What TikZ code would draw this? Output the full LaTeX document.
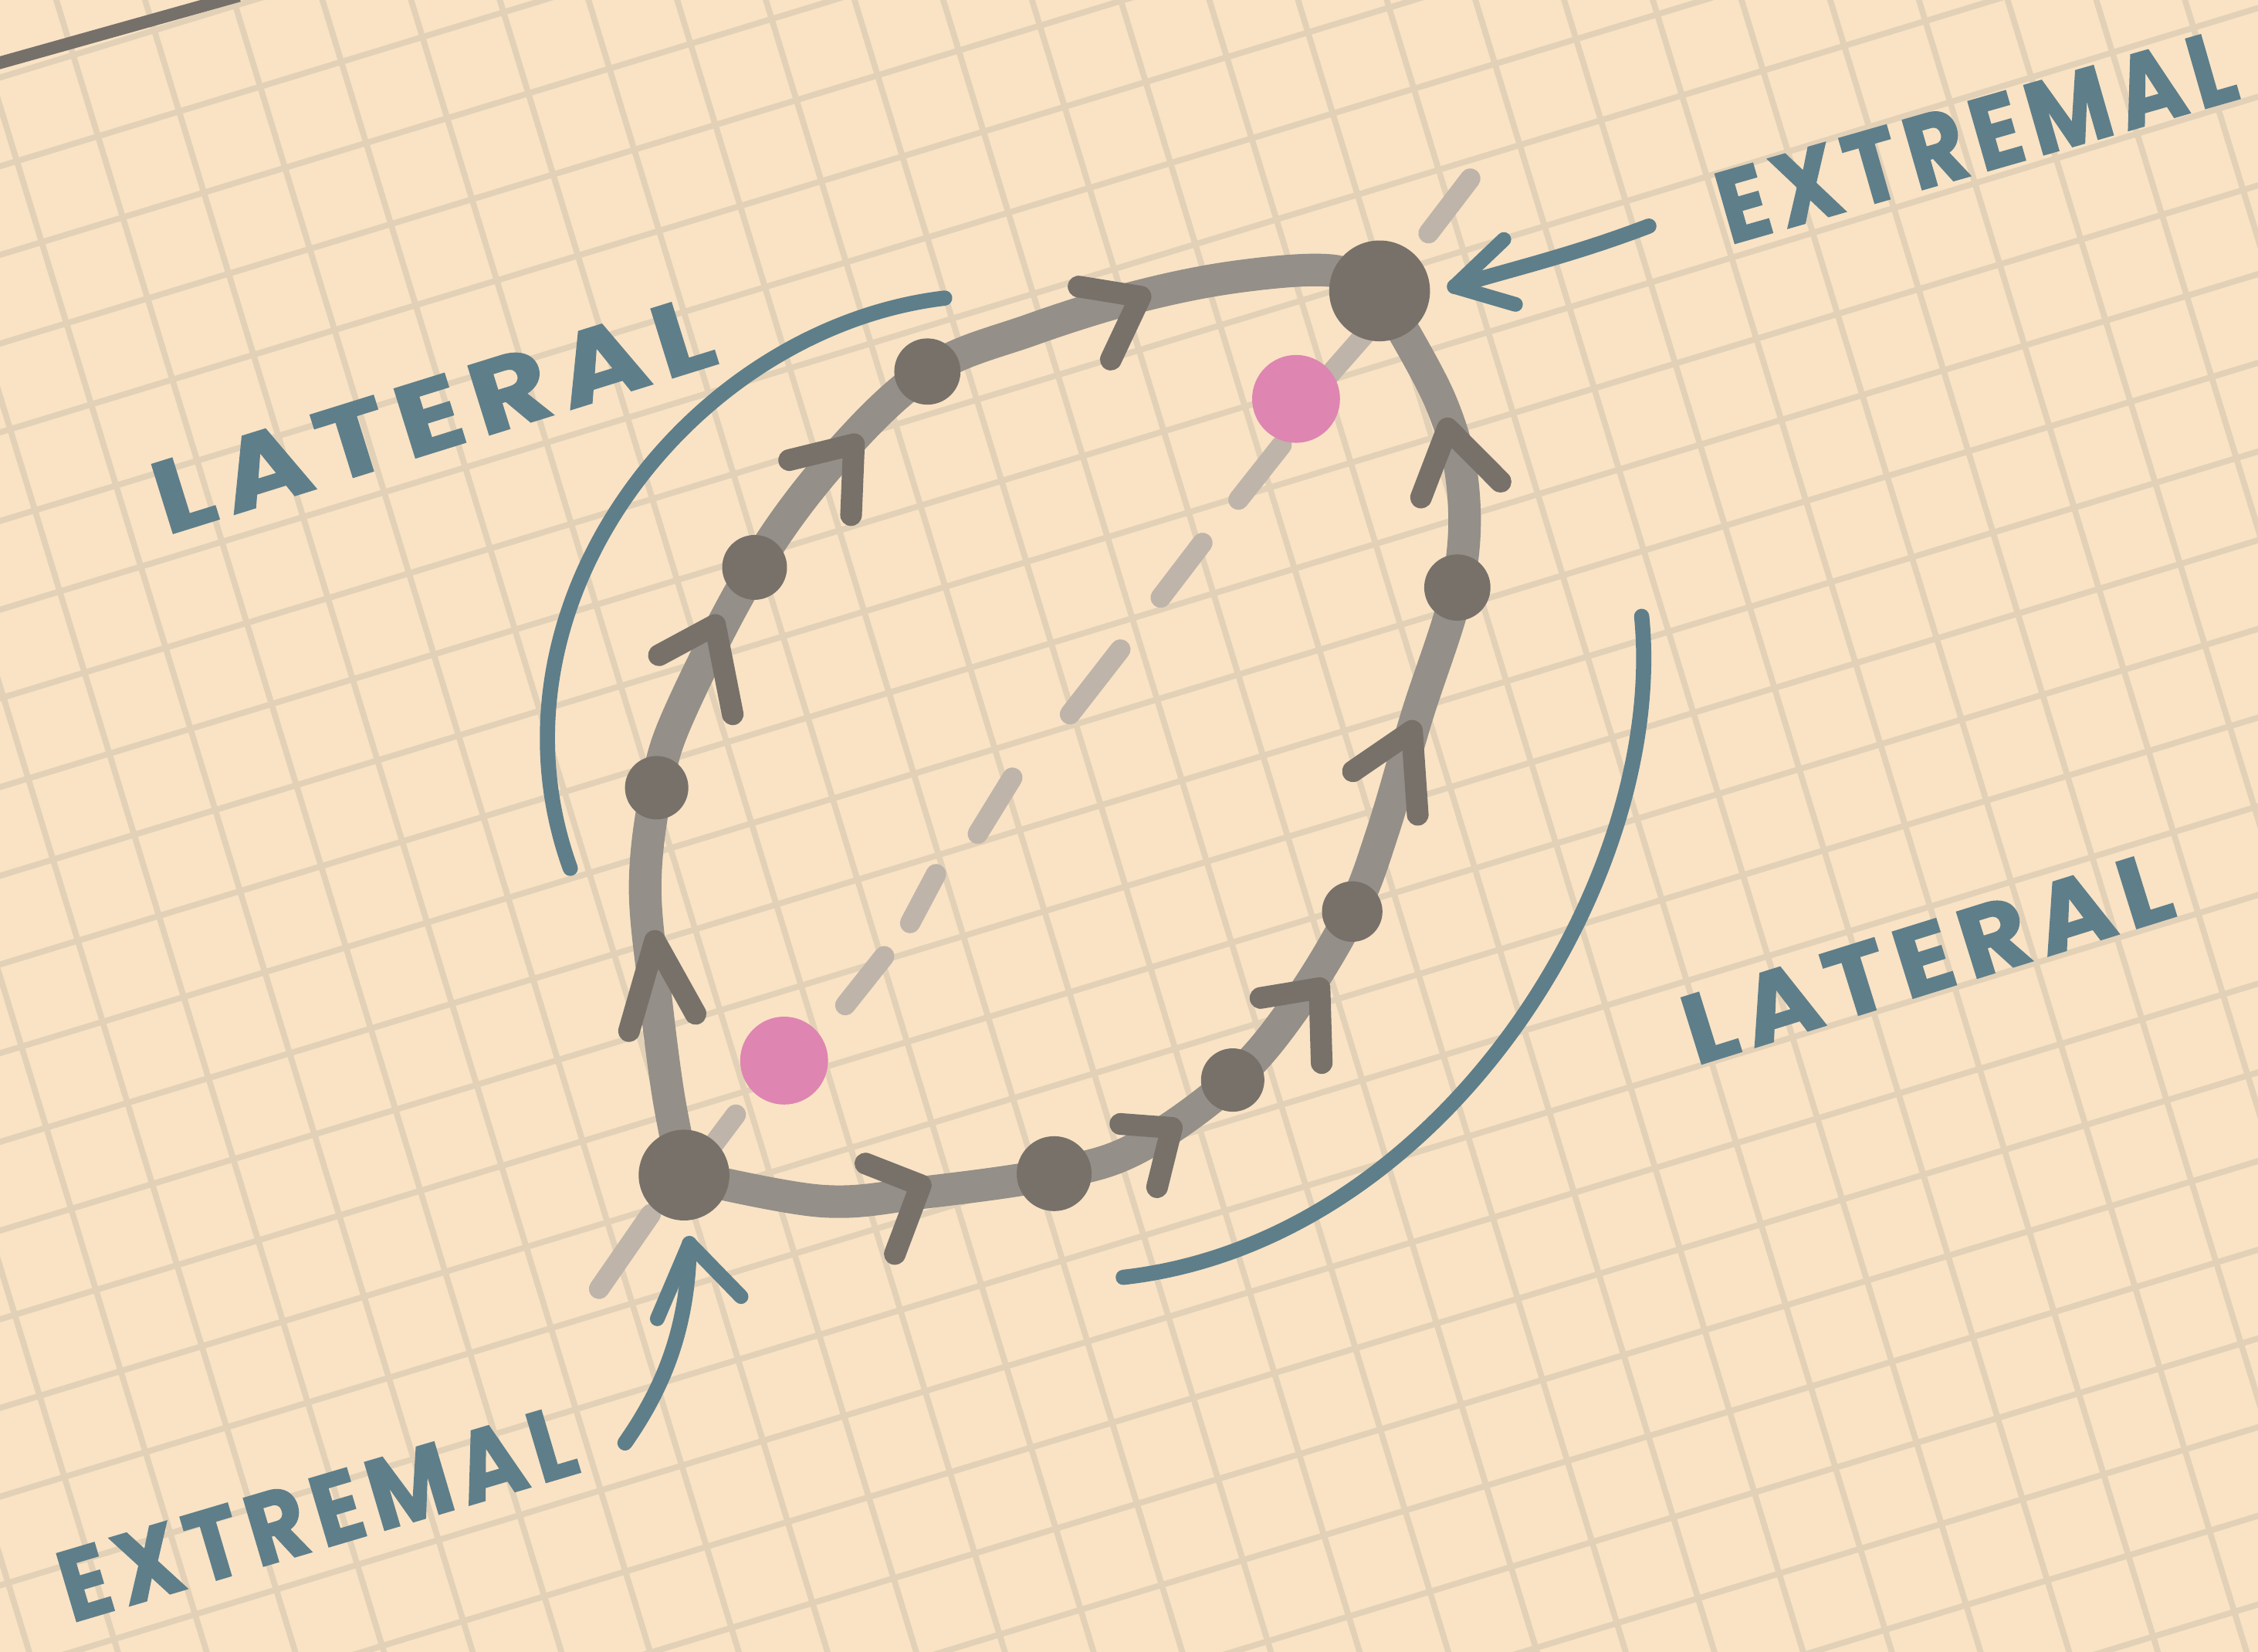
\documentclass[tikz,border=0pt]{standalone}
\usepackage{fontspec}
\usepackage{graphicx}
\newfontfamily\handfont{Poppins}[LetterSpace=10, BoldFeatures={FakeBold=1.5}]
\newlength\upx
\setlength\upx{0.18654mm}
\definecolor{paper}{HTML}{F9E3C4}
\definecolor{gridc}{HTML}{E2D1B7}
\definecolor{loopc}{HTML}{948F88}
\definecolor{dotc}{HTML}{77716A}
\definecolor{dashc}{HTML}{BEB4AA}
\definecolor{pinkc}{HTML}{DE85B1}
\definecolor{bluec}{HTML}{5E7E8A}
\definecolor{edgec}{HTML}{76706A}
\tikzset{
  gridline/.style={draw=gridc, line width=2.2pt},
  loopline/.style={draw=loopc, line width=12pt, line cap=round, line join=round},
  chev/.style={draw=dotc, line width=8pt, line cap=round, line join=round},
  dashmark/.style={draw=dashc, line width=7.5pt, line cap=round},
  dotnode/.style={circle, fill=dotc, inner sep=0pt, minimum size=#1},
  pinkdot/.style={circle, fill=pinkc, inner sep=0pt, minimum size=61\upx},
  bluearc/.style={draw=bluec, line width=5.6pt, line cap=round, line join=round},
  bluehead/.style={draw=bluec, line width=5.4pt, line cap=round, line join=round},
  handlabel/.style={text=bluec, inner sep=0pt},
}
\begin{document}
\begin{tikzpicture}[x=0.18654mm, y=-0.18654mm]
\useasboundingbox (0,0) rectangle (1568,1147);
\fill[paper] (0,0) rectangle (1568,1147);
% grid paper
\begin{scope}
  \clip (0,0) rectangle (1568,1147);
  \begin{scope}[rotate=17]
    \foreach \k in {-8,...,27} {
      \draw[gridline] ({37.4+58.9*\k},-800) -- ({37.4+58.9*\k},2200);
      \draw[gridline] (-800,{51.5+58.9*\k}) -- (2200,{51.5+58.9*\k});
    }
  \end{scope}
  \coordinate (edgeA) at (-10,46.4);
  \coordinate (edgeB) at (166,-3);
  \draw[draw=edgec, line width=4.6pt] (edgeA) -- (edgeB);
\end{scope}

% dashed diagonal
\coordinate (d1a) at (992,162);   \coordinate (d1b) at (1021,124);
\coordinate (d2a) at (948,232);   \coordinate (d2b) at (919,265);
\coordinate (d3a) at (890,309);   \coordinate (d3b) at (860,347);
\coordinate (d4a) at (835,377);   \coordinate (d4b) at (806,415);
\coordinate (d5a) at (778,451);   \coordinate (d5b) at (743,496);
\coordinate (d6a) at (703,540);   \coordinate (d6b) at (679,579);
\coordinate (d7a) at (650,607);   \coordinate (d7b) at (632,641);
\coordinate (d8a) at (614,664);   \coordinate (d8b) at (587,698);
\coordinate (d9a) at (511,774);   \coordinate (d9b) at (496,794);
\coordinate (d10a) at (452,843);  \coordinate (d10b) at (416,895);
\foreach \i in {1,...,10} { \draw[dashmark] (d\i a) -- (d\i b); }

% pink dots
\node[pinkdot] (p1) at (900,277) {};
\node[pinkdot] (p2) at (544.5,736.5) {};

% blue arcs
\coordinate (la) at (656,207);
\coordinate (lb) at (396,603);
\draw[bluearc] (la) .. controls (480,228) and (330,420) .. (lb);
\coordinate (ra) at (1140,428);
\coordinate (rb) at (780,887);
\draw[bluearc] (ra) .. controls (1158,610) and (1002,862) .. (rb);

% loop
\coordinate (X1) at (475,816);
\coordinate (X2) at (958,202);
\coordinate (s1) at (456,547);
\coordinate (s2) at (524,394);
\coordinate (s3) at (644,258);
\coordinate (s4) at (1012,408);
\coordinate (s5) at (939,633);
\coordinate (s6) at (856,750);
\coordinate (s7) at (732,815);
\draw[loopline] plot[smooth, tension=0.6] coordinates {
  (X1) (464,760) (455,690) (448,615) (s1) (472,495) (s2)
  (580,318) (s3) (716,229) (790,206) (860,192) (925,188) (X2)};
\draw[loopline] plot[smooth, tension=0.6] coordinates {
  (X1) (570,834) (642,828) (s7) (790,797) (s6) (900,698) (s5)
  (960,578) (984,497) (s4) (1016,340) (1000,278) (X2)};

% arrowheads on the loop
\draw[chev] (457.6,455) -- (496.6,434) -- (508.8,496);
\draw[chev] (548,319.5) -- (593,308.5) -- (591,357.7);
\draw[chev] (749,199) -- (792,206) -- (771.4,249.7);
\draw[chev] (986.8,345.5) -- (1005.2,297.5) -- (1042,334.5);
\draw[chev] (939.5,535.6) -- (980.5,507.5) -- (984.5,565.8);
\draw[chev] (436.8,716) -- (454.8,653.4) -- (483,704);
\draw[chev] (601,808) -- (639.4,823) -- (621.4,870.8);
\draw[chev] (778,780.5) -- (813.7,783.2) -- (803.5,824.4);
\draw[chev] (875.3,693) -- (916.3,686.2) -- (917.8,738.2);

% dots
\node[dotnode=63\upx] (n1) at (X1) {};
\node[dotnode=70\upx] (n2) at (X2) {};
\node[dotnode=44\upx] (m1) at (s1) {};
\node[dotnode=45\upx] (m2) at (s2) {};
\node[dotnode=46\upx] (m3) at (s3) {};
\node[dotnode=46\upx] (m4) at (s4) {};
\node[dotnode=42\upx] (m5) at (s5) {};
\node[dotnode=44\upx] (m6) at (s6) {};
\node[dotnode=52\upx] (m7) at (s7) {};

% blue pointer arrows
\coordinate (ta) at (1145,157);
\coordinate (tb) at (1010,199);
\draw[bluearc] (ta) .. controls (1090,178) and (1045,188) .. (tb);
\draw[bluehead] (1044.3,166.3) -- (tb) -- (1052.4,211.4);
\coordinate (ba) at (434,1002);
\coordinate (bb) at (478.7,863.5);
\draw[bluearc] (ba) .. controls (462,962) and (478,920) .. (bb);
\draw[bluehead] (456.4,915.8) -- (bb) -- (514.6,900.4);

% labels
\node[handlabel, rotate=17.3] (lat1) at (300.5,288) {\resizebox{403\upx}{50\upx}{\handfont\bfseries LATERAL}};
\node[handlabel, rotate=16] (ext1) at (1372,95) {\resizebox{370\upx}{50\upx}{\handfont\bfseries EXTREMAL}};
\node[handlabel, rotate=17.3] (lat2) at (1338,665) {\resizebox{351\upx}{48\upx}{\handfont\bfseries LATERAL}};
\node[handlabel, rotate=16.5] (ext2) at (220,1051) {\resizebox{370\upx}{49\upx}{\handfont\bfseries EXTREMAL}};
\end{tikzpicture}
\end{document}
